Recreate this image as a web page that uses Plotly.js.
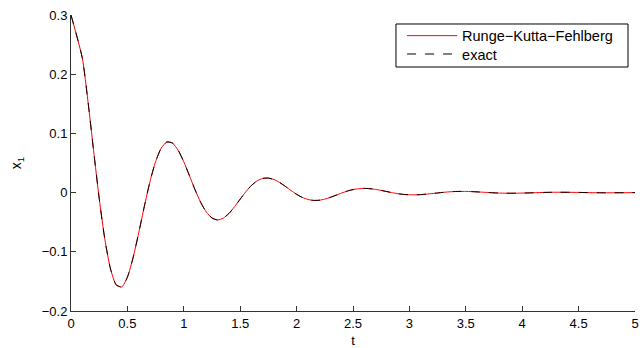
<!DOCTYPE html>
<html>
<head>
<meta charset="utf-8">
<script src="https://cdn.plot.ly/plotly-3.0.1.min.js"></script>
<style>html,body{margin:0;padding:0;background:#fff;}#chart{width:640px;height:348px;}</style>
</head>
<body>
<div id="chart"></div>
<script>
var tValues = [0, 0.1, 0.15, 0.2, 0.25, 0.3, 0.35, 0.4, 0.45, 0.5, 0.55, 0.6, 0.65, 0.7, 0.75, 0.8, 0.85, 0.9, 0.95, 1.0,
  1.05, 1.1, 1.15, 1.2, 1.25, 1.3, 1.35, 1.4, 1.45, 1.5, 1.55, 1.6, 1.65, 1.7, 1.75, 1.8, 1.85, 1.9, 1.95, 2.0,
  2.05, 2.1, 2.15, 2.2, 2.25, 2.3, 2.35, 2.4, 2.45, 2.5, 2.55, 2.6, 2.65, 2.7, 2.75, 2.8, 2.85, 2.9, 2.95, 3.0,
  3.05, 3.1, 3.15, 3.2, 3.25, 3.3, 3.35, 3.4, 3.45, 3.5, 3.55, 3.6, 3.65, 3.7, 3.75, 3.8, 3.85, 3.9, 3.95, 4.0,
  4.1, 4.2, 4.3, 4.4, 4.5, 4.6, 4.7, 4.8, 4.9, 5.0];
var xRKF = [0.3, 0.2275, 0.1548, 0.0715, -0.0097, -0.0788, -0.1287, -0.1557, -0.1595, -0.1428, -0.1103, -0.0683, -0.0234, 0.0185, 0.0524, 0.0752, 0.0855, 0.0836, 0.0715, 0.0520,
  0.0286, 0.0047, -0.0166, -0.0329, -0.0429, -0.0462, -0.0432, -0.0352, -0.0238, -0.0110, 0.0015, 0.0121, 0.0198, 0.0240, 0.0245, 0.0220, 0.0170, 0.0105, 0.0036, -0.0029,
  -0.0081, -0.0116, -0.0132, -0.0129, -0.0110, -0.0080, -0.0044, -0.0007, 0.0026, 0.0051, 0.0066, 0.0071, 0.0066, 0.0054, 0.0037, 0.0017, -0.0002, -0.0019, -0.0031, -0.0037,
  -0.0038, -0.0034, -0.0026, -0.0016, -0.0006, 0.0004, 0.0012, 0.0018, 0.0020, 0.0020, 0.0017, 0.0012, 0.0007, 0.0001, -0.0004, -0.0008, -0.0010, -0.0011, -0.0010, -0.0008,
  -0.0003, 0.0003, 0.0006, 0.0005, 0.0003, -0.0001, -0.0003, -0.0003, -0.0002, 0.0000];
var xExact = [0.3, 0.2275, 0.1548, 0.0715, -0.0097, -0.0788, -0.1287, -0.1557, -0.1595, -0.1428, -0.1103, -0.0683, -0.0234, 0.0185, 0.0524, 0.0752, 0.0855, 0.0836, 0.0715, 0.0520,
  0.0286, 0.0047, -0.0166, -0.0329, -0.0429, -0.0462, -0.0432, -0.0352, -0.0238, -0.0110, 0.0015, 0.0121, 0.0198, 0.0240, 0.0245, 0.0220, 0.0170, 0.0105, 0.0036, -0.0029,
  -0.0081, -0.0116, -0.0132, -0.0129, -0.0110, -0.0080, -0.0044, -0.0007, 0.0026, 0.0051, 0.0066, 0.0071, 0.0066, 0.0054, 0.0037, 0.0017, -0.0002, -0.0019, -0.0031, -0.0037,
  -0.0038, -0.0034, -0.0026, -0.0016, -0.0006, 0.0004, 0.0012, 0.0018, 0.0020, 0.0020, 0.0017, 0.0012, 0.0007, 0.0001, -0.0004, -0.0008, -0.0010, -0.0011, -0.0010, -0.0008,
  -0.0003, 0.0003, 0.0006, 0.0005, 0.0003, -0.0001, -0.0003, -0.0003, -0.0002, 0.0000];
var seriesNames = ['Runge\u2212Kutta\u2212Fehlberg', 'exact'];
var xTickVals = [0, 0.5, 1, 1.5, 2, 2.5, 3, 3.5, 4, 4.5, 5];
var xTickText = ['0', '0.5', '1', '1.5', '2', '2.5', '3', '3.5', '4', '4.5', '5'];
var yTickVals = [-0.2, -0.1, 0, 0.1, 0.2, 0.3];
var yTickText = ['\u22120.2', '\u22120.1', '0', '0.1', '0.2', '0.3'];

var fontFam = 'Liberation Sans, Arial, Helvetica, sans-serif';
var traces = [
  {x: tValues, y: xRKF, name: seriesNames[0], type: 'scatter', mode: 'lines', legend: 'legend',
   line: {color: '#ff0000', width: 1, shape: 'spline', smoothing: 0.6}},
  {x: tValues, y: xExact, name: seriesNames[1], type: 'scatter', mode: 'lines', legend: 'legend2',
   line: {color: '#000000', width: 1, dash: '9px,9px', shape: 'spline', smoothing: 0.6}}
];
var legendBase = {xanchor: 'left', yanchor: 'middle', bgcolor: 'rgba(0,0,0,0)', borderwidth: 0,
  font: {family: fontFam, size: 14.5, color: '#000'}, itemwidth: 50};
var layout = {
  width: 640, height: 348,
  margin: {l: 71, r: 5, t: 15, b: 37},
  paper_bgcolor: '#ffffff', plot_bgcolor: '#ffffff',
  font: {family: fontFam, size: 13, color: '#000'},
  showlegend: true,
  legend: Object.assign({x: 0.587, y: 0.930}, legendBase),
  legend2: Object.assign({x: 0.587, y: 0.868}, legendBase),
  shapes: [{type: 'rect', xref: 'paper', yref: 'paper', x0: 0.5762, x1: 0.9876, y0: 0.8243, y1: 0.9696,
    line: {color: '#000', width: 1}, fillcolor: '#fff', layer: 'above'}],
  xaxis: {range: [0, 5], tickvals: xTickVals, ticktext: xTickText, ticks: 'inside', ticklen: 5,
    tickcolor: '#333', showline: true, linecolor: '#333', linewidth: 1, mirror: false,
    showgrid: false, zeroline: false, tickfont: {size: 13},
    title: {text: 't', font: {size: 13}, standoff: 6}},
  yaxis: {range: [-0.2, 0.3], tickvals: yTickVals, ticktext: yTickText, ticks: 'inside', ticklen: 5,
    tickcolor: '#333', showline: true, linecolor: '#333', linewidth: 1, mirror: false,
    showgrid: false, zeroline: false, tickfont: {size: 13},
    title: {text: 'x<sub>1</sub>', font: {size: 14}, standoff: 16}}
};
Plotly.newPlot('chart', traces, layout, {displayModeBar: false, staticPlot: true});
</script>
</body>
</html>
